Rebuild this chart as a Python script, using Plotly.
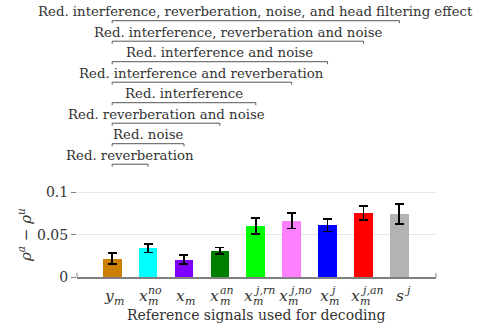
import plotly.graph_objects as go

# ---- data ----
base_sym = ["y", "x", "x", "x", "x", "x", "x", "x", "s"]
sup_txt = ["", "no", "", "an", "j,rn", "j,no", "j", "j,an", "j"]
sub_txt = ["m", "m", "m", "m", "m", "m", "m", "m", ""]
values = [0.0215, 0.0338, 0.0205, 0.0308, 0.0603, 0.0662, 0.0613, 0.0755, 0.0743]
errors = [0.0065, 0.0050, 0.0050, 0.0040, 0.0095, 0.0090, 0.0075, 0.0085, 0.0115]
colors = ["#CC8000", "#00FFFF", "#8000FF", "#008000", "#00FF00",
          "#FF80FF", "#0000FF", "#FF0000", "#B3B3B3"]
bracket_labels = [
    "Red. interference, reverberation, noise, and head filtering effect",
    "Red. interference, reverberation and noise",
    "Red. interference and noise",
    "Red. interference and reverberation",
    "Red. interference",
    "Red. reverberation and noise",
    "Red. noise",
    "Red. reverberation",
]
bracket_from = [0, 0, 0, 0, 0, 0, 0, 0]
bracket_to = [8, 7, 6, 5, 4, 3, 2, 1]

xs = list(range(len(values)))

W, H = 484, 327
ML, MR, MT, MB = 77, 48, 188, 50
YMAX = 0.105
plot_h = H - MT - MB
plot_w = W - ML - MR

def py2paper(py):  # py in screen pixels
    return (H - MB - py) / plot_h

def px2paper(px):
    return (px - ML) / plot_w

FONT = "DejaVu Serif"
TXT = "#333333"

fig = go.Figure()
fig.add_trace(go.Bar(
    x=xs, y=values, width=0.52,
    marker=dict(color=colors, line=dict(width=0)),
    error_y=dict(type="data", array=errors, color="black", thickness=1.8, width=4.5),
    showlegend=False, hoverinfo="skip",
))

shapes = []
annotations = []

# brackets
for k, (lab, a, b) in enumerate(zip(bracket_labels, bracket_from, bracket_to)):
    ly = 20.7 + 20.5 * k
    yl = py2paper(ly)
    yt = py2paper(ly + 2.5)
    shapes.append(dict(type="line", xref="x", yref="paper", x0=a, x1=b, y0=yl, y1=yl,
                       line=dict(color="#555555", width=1)))
    for e in (a, b):
        shapes.append(dict(type="line", xref="x", yref="paper", x0=e, x1=e, y0=yl, y1=yt,
                           line=dict(color="#555555", width=1)))
    annotations.append(dict(text=lab, xref="x", yref="paper", x=(a + b) / 2,
                            y=py2paper(ly - 9), xanchor="center", yanchor="middle",
                            showarrow=False,
                            font=dict(family=FONT, size=13.3, color=TXT)))

# x tick labels (math-like)
char_w = {"x": 0.59, "y": 0.59, "s": 0.51, "m": 0.95, "n": 0.64, "o": 0.6, "a": 0.6,
          "r": 0.48, "j": 0.32, ",": 0.32}
BASE_FS, SMALL_FS = 15.5, 11
for i, (bs, sp, sb) in enumerate(zip(base_sym, sup_txt, sub_txt)):
    bw = sum(char_w.get(c, 0.6) for c in bs) * BASE_FS
    spw = sum(char_w.get(c, 0.6) for c in sp) * SMALL_FS
    sbw = sum(char_w.get(c, 0.6) for c in sb) * SMALL_FS
    tot = bw + max(spw, sbw)
    start = -tot / 2
    annotations.append(dict(text="<i>%s</i>" % bs, xref="x", yref="paper", x=i,
                            y=py2paper(296), xshift=start, xanchor="left", yanchor="middle",
                            showarrow=False, font=dict(family=FONT, size=BASE_FS, color=TXT)))
    if sp:
        annotations.append(dict(text="<i>%s</i>" % sp, xref="x", yref="paper", x=i,
                                y=py2paper(290.5), xshift=start + bw, xanchor="left",
                                yanchor="middle", showarrow=False,
                                font=dict(family=FONT, size=SMALL_FS, color=TXT)))
    if sb:
        annotations.append(dict(text="<i>%s</i>" % sb, xref="x", yref="paper", x=i,
                                y=py2paper(301), xshift=start + bw, xanchor="left",
                                yanchor="middle", showarrow=False,
                                font=dict(family=FONT, size=SMALL_FS, color=TXT)))

# small end ticks on x axis line
for xe in (0, 1):
    shapes.append(dict(type="line", xref="paper", yref="paper", x0=xe, x1=xe,
                       y0=0, y1=py2paper(277 - 4), line=dict(color="#808080", width=1)))

# axis titles
annotations.append(dict(text="Reference signals used for decoding", xref="paper", yref="paper",
                        x=0.5, y=py2paper(315), xanchor="center", yanchor="middle",
                        showarrow=False, font=dict(family=FONT, size=14, color=TXT)))
annotations.append(dict(text="<i>ρ<sup>a</sup></i> − <i>ρ<sup>u</sup></i>", xref="paper",
                        yref="paper", x=px2paper(25), y=py2paper(235),
                        xanchor="center", yanchor="middle", textangle=-90, showarrow=False,
                        font=dict(family=FONT, size=15, color=TXT)))

fig.update_layout(
    width=W, height=H,
    margin=dict(l=ML, r=MR, t=MT, b=MB, pad=0),
    paper_bgcolor="white", plot_bgcolor="white",
    bargap=0,
    xaxis=dict(range=[-0.98, 9.02], showticklabels=False, ticks="", showgrid=False,
               zeroline=False, showline=True, linecolor="#808080", linewidth=1.5),
    yaxis=dict(range=[0, YMAX], tickvals=[0, 0.05, 0.1], ticktext=["0", "0.05", "0.1"],
               ticks="outside", ticklen=5, tickcolor="#808080", showgrid=True,
               gridcolor="#E6E6E6", gridwidth=1, zeroline=False, showline=False,
               tickfont=dict(family=FONT, size=14, color=TXT)),
    shapes=shapes,
    annotations=annotations,
)

fig.write_html("out.html", config={"displayModeBar": False},
               post_script="document.body.style.margin='0px';document.body.style.overflow='hidden';")
